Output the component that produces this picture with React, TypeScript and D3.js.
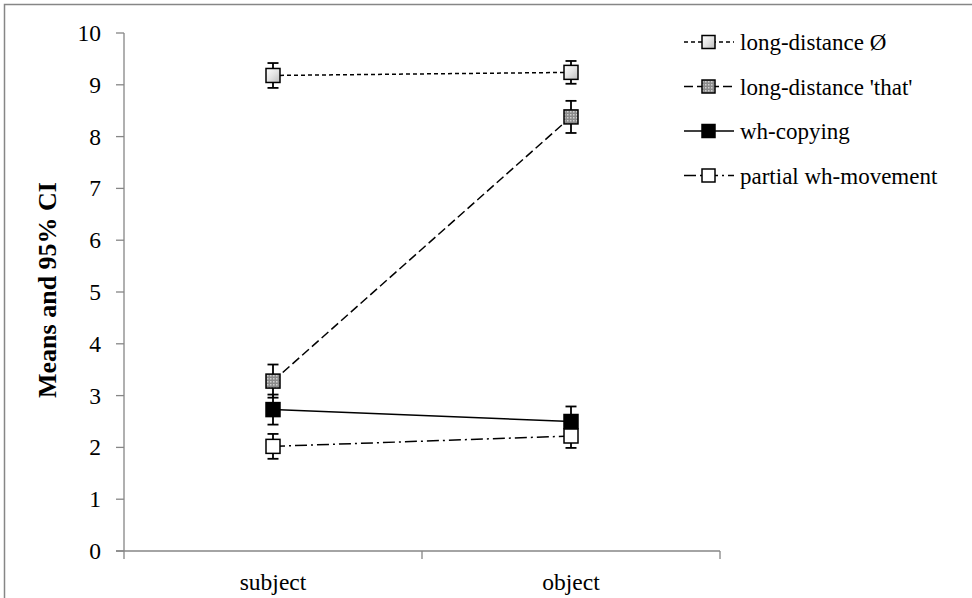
import * as d3 from "d3";

const categories = ["subject", "object"];
const seriesNames = ["long-distance Ø", "long-distance 'that'", "wh-copying", "partial wh-movement"];
const meansLdZero = [9.18, 9.24];
const meansLdThat = [3.28, 8.38];
const meansWhCopy = [2.73, 2.5];
const meansPartial = [2.02, 2.22];
const ciLdZero = [0.24, 0.22];
const ciLdThat = [0.32, 0.31];
const ciWhCopy = [0.29, 0.29];
const ciPartial = [0.24, 0.23];
const yTicks = [0, 1, 2, 3, 4, 5, 6, 7, 8, 9, 10];

const W = 972;
const H = 598;
const plot = { left: 124, right: 720, top: 33, bottom: 551 };
const FONT = "Liberation Serif, Times New Roman, DejaVu Serif, serif";

const styles = [
  { dash: "4,3", fill: "url(#pLight)" },
  { dash: "9,4", fill: "url(#pDots)" },
  { dash: "none", fill: "#000" },
  { dash: "12,4,2,4", fill: "#fff" },
];

const series = [
  { name: seriesNames[0], means: meansLdZero, ci: ciLdZero, ...styles[0] },
  { name: seriesNames[1], means: meansLdThat, ci: ciLdThat, ...styles[1] },
  { name: seriesNames[2], means: meansWhCopy, ci: ciWhCopy, ...styles[2] },
  { name: seriesNames[3], means: meansPartial, ci: ciPartial, ...styles[3] },
];

export default function App() {
  const x = d3.scaleBand().domain(categories).range([plot.left, plot.right]);
  const y = d3.scaleLinear().domain([0, 10]).range([plot.bottom, plot.top]);
  const cx = (c: string) => (x(c) || 0) + x.bandwidth() / 2;
  const line = d3
    .line<number>()
    .x((_, i) => cx(categories[i]))
    .y((d) => y(d));
  const ms = 14;
  const cap = 5.5;
  const ts = { fontFamily: FONT, fontSize: "23.5px" };

  return (
    <svg width={W} height={H} style={{ position: "absolute", left: 0, top: 0 }}>
      <defs>
        <linearGradient id="pLight" x1="0" y1="0" x2="1" y2="1">
          <stop offset="0" stopColor="#fff" />
          <stop offset="0.5" stopColor="#e4e4e4" />
          <stop offset="1" stopColor="#bdbdbd" />
        </linearGradient>
        <pattern id="pDots" width="3" height="3" patternUnits="userSpaceOnUse">
          <rect width="3" height="3" fill="#8a8a8a" />
          <rect width="1.5" height="1.5" fill="#d0d0d0" />
        </pattern>
      </defs>
      <rect x={0} y={0} width={W} height={H} fill="#fff" />
      <rect x={4.5} y={4.5} width={W + 10} height={H + 10} fill="none" stroke="#868686" strokeWidth={1.5} />

      {/* axes */}
      <line x1={plot.left} x2={plot.left} y1={plot.top} y2={plot.bottom} stroke="#868686" strokeWidth={1.3} />
      <line x1={plot.left - 8} x2={plot.right} y1={plot.bottom} y2={plot.bottom} stroke="#868686" strokeWidth={1.3} />
      {yTicks.map((t) => (
        <g key={t}>
          <line x1={plot.left - 8} x2={plot.left} y1={y(t)} y2={y(t)} stroke="#868686" strokeWidth={1.3} />
          <text x={101} y={y(t) + 8} textAnchor="end" style={ts}>
            {t}
          </text>
        </g>
      ))}
      {[plot.left, ...categories.map((c) => (x(c) || 0) + x.bandwidth())].map((px, i) => (
        <line key={i} x1={px} x2={px} y1={plot.bottom} y2={plot.bottom + 8} stroke="#868686" strokeWidth={1.3} />
      ))}
      {categories.map((c) => (
        <text key={c} x={cx(c)} y={590} textAnchor="middle" style={ts}>
          {c}
        </text>
      ))}
      <text
        transform={`translate(56,290) rotate(-90)`}
        textAnchor="middle"
        style={{ ...ts, fontSize: "26px", fontWeight: "bold" }}
      >
        Means and 95% CI
      </text>

      {/* series */}
      {series.map((s) => (
        <g key={s.name}>
          <path d={line(s.means) || ""} fill="none" stroke="#000" strokeWidth={1.5} strokeDasharray={s.dash} />
          {s.means.map((m, i) => {
            const px = cx(categories[i]);
            const lo = y(m - s.ci[i]);
            const hi = y(m + s.ci[i]);
            return (
              <g key={i}>
                <line x1={px} x2={px} y1={lo} y2={hi} stroke="#000" strokeWidth={1.8} />
                <line x1={px - cap} x2={px + cap} y1={lo} y2={lo} stroke="#000" strokeWidth={1.8} />
                <line x1={px - cap} x2={px + cap} y1={hi} y2={hi} stroke="#000" strokeWidth={1.8} />
                <rect x={px - ms / 2} y={y(m) - ms / 2} width={ms} height={ms} fill={s.fill} stroke="#000" strokeWidth={1.5} />
              </g>
            );
          })}
        </g>
      ))}

      {/* legend */}
      {series.map((s, i) => {
        const ly = 42 + i * 44.5;
        return (
          <g key={s.name}>
            <line x1={684} x2={734} y1={ly} y2={ly} stroke="#000" strokeWidth={1.5} strokeDasharray={s.dash} />
            <rect x={702} y={ly - 6.5} width={13} height={13} fill={s.fill} stroke="#000" strokeWidth={1.5} />
            <text x={740} y={ly + 8} style={{ ...ts, fontSize: "23px" }}>
              {s.name}
            </text>
          </g>
        );
      })}
    </svg>
  );
}
